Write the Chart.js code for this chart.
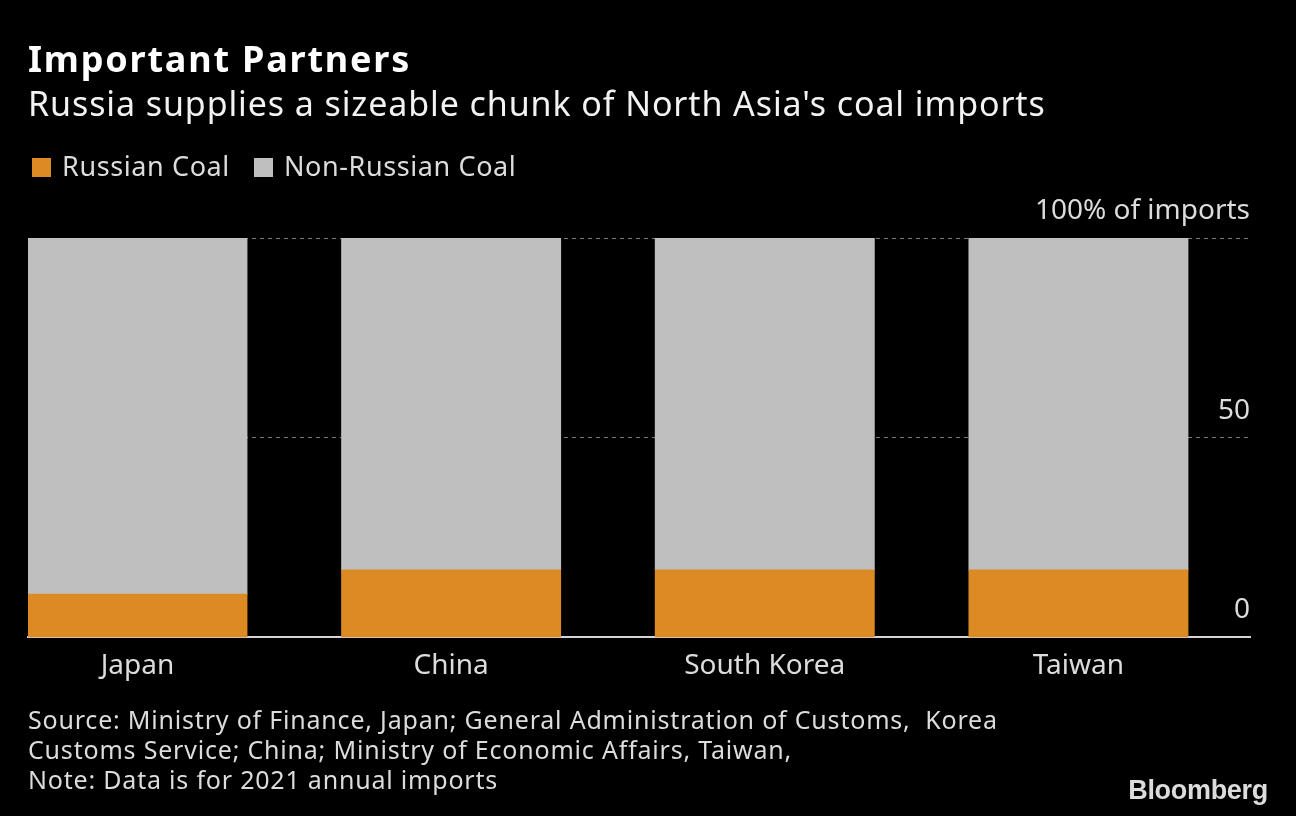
<!DOCTYPE html>
<html>
<head>
<meta charset="utf-8">
<script src="https://cdn.jsdelivr.net/npm/chart.js@4.4.1/dist/chart.umd.min.js"></script>
<style>
  html, body { margin: 0; padding: 0; background: #000; }
  body { width: 1296px; height: 816px; position: relative; overflow: hidden; font-family: "Noto Sans", sans-serif; }
  #wrap { position: absolute; left: 0; top: 0; width: 1296px; height: 816px; }
  .txt { position: absolute; left: 28px; white-space: nowrap; line-height: 1; }
  #title { top: 41px; font-size: 36px; font-weight: bold; letter-spacing: 1.8px; color: #fff; }
  #subtitle { top: 86px; font-size: 34px; letter-spacing: 0.9px; color: #f2f2f2; }
  #legend { top: 152px; font-size: 27px; letter-spacing: 0.6px; color: #dcdcdc; }
  #legend span.item { display: inline-block; margin-right: 20px; }
  #legend i { display: inline-block; width: 19px; height: 19px; margin: 0 11px 0 4px; vertical-align: -1px; }
  #source { top: 704px; font-size: 25px; letter-spacing: 0.8px; line-height: 30px; color: #dcdcdc; }
  #logo { position: absolute; right: 28px; top: 777px; font-family: "Liberation Sans", sans-serif; font-weight: bold; font-size: 27px; letter-spacing: -0.3px; color: #dcdcdc; line-height: 1; }
</style>
</head>
<body>
<div id="wrap"><canvas id="coalChart" width="1296" height="816"></canvas></div>
<div class="txt" id="title">Important Partners</div>
<div class="txt" id="subtitle">Russia supplies a sizeable chunk of North Asia's coal imports</div>
<div class="txt" id="legend"></div>
<div class="txt" id="source">Source: Ministry of Finance, Japan; General Administration of Customs,&nbsp; Korea<br>Customs Service; China; Ministry of Economic Affairs, Taiwan,<br>Note: Data is for 2021 annual imports</div>
<div id="logo">Bloomberg</div>
<script>
const countries = ['Japan', 'China', 'South Korea', 'Taiwan'];
const russianCoal = [10.8, 16.9, 16.9, 16.9];
const nonRussianCoal = [89.2, 83.1, 83.1, 83.1];
const yTickValues = [0, 50, 100];
const yTickLabels = ['0', '50', '100% of imports'];

const orange = '#dc8a24';
const grey = '#bfbfbf';

// legend in html
document.getElementById('legend').innerHTML =
    '<span class="item"><i style="background:' + orange + '"></i>Russian Coal</span>' +
    '<span class="item"><i style="background:' + grey + '"></i>Non-Russian Coal</span>';

new Chart(document.getElementById('coalChart'), {
    type: 'bar',
    data: {
        datasets: [{
            label: 'Russian Coal',
            data: russianCoal.map((v, i) => ({ x: i, y: v })),
            backgroundColor: orange,
            borderWidth: 0,
            inflateAmount: 0.5
        }, {
            label: 'Non-Russian Coal',
            data: nonRussianCoal.map((v, i) => ({ x: i, y: v })),
            backgroundColor: grey,
            borderWidth: 0,
            inflateAmount: 0.5
        }]
    },
    options: {
        responsive: false,
        animation: false,
        categoryPercentage: 1,
        barPercentage: 0.698,
        layout: {
            padding: { left: 28, right: 46, top: 238, bottom: 121 }
        },
        plugins: {
            legend: { display: false },
            tooltip: { enabled: false }
        },
        scales: {
            x: {
                type: 'linear',
                stacked: true,
                offset: false,
                min: -0.349,
                max: 3.547,
                afterBuildTicks: scale => {
                    scale.ticks = countries.map((c, i) => ({ value: i }));
                },
                ticks: {
                    callback: v => countries[v],
                    color: '#dcdcdc',
                    font: { family: 'Noto Sans', size: 28 },
                    padding: 12,
                    maxRotation: 0,
                    autoSkip: false
                },
                grid: { display: false, drawTicks: false },
                border: { display: true, color: '#d4d4d4', width: 2 }
            },
            y: {
                stacked: true,
                position: 'right',
                min: 0,
                max: 100,
                afterBuildTicks: scale => {
                    scale.ticks = yTickValues.map(v => ({ value: v }));
                },
                ticks: {
                    callback: v => yTickLabels[yTickValues.indexOf(v)],
                    mirror: true,
                    padding: 0,
                    labelOffset: -27,
                    color: '#dcdcdc',
                    font: { family: 'Noto Sans', size: 28 }
                },
                grid: {
                    drawTicks: false,
                    color: ctx => ctx.tick && ctx.tick.value === 0 ? 'rgba(0,0,0,0)' : '#7a7a7a',
                    lineWidth: 1
                },
                border: { display: false, dash: [4, 4] }
            }
        }
    }
});
</script>
</body>
</html>
